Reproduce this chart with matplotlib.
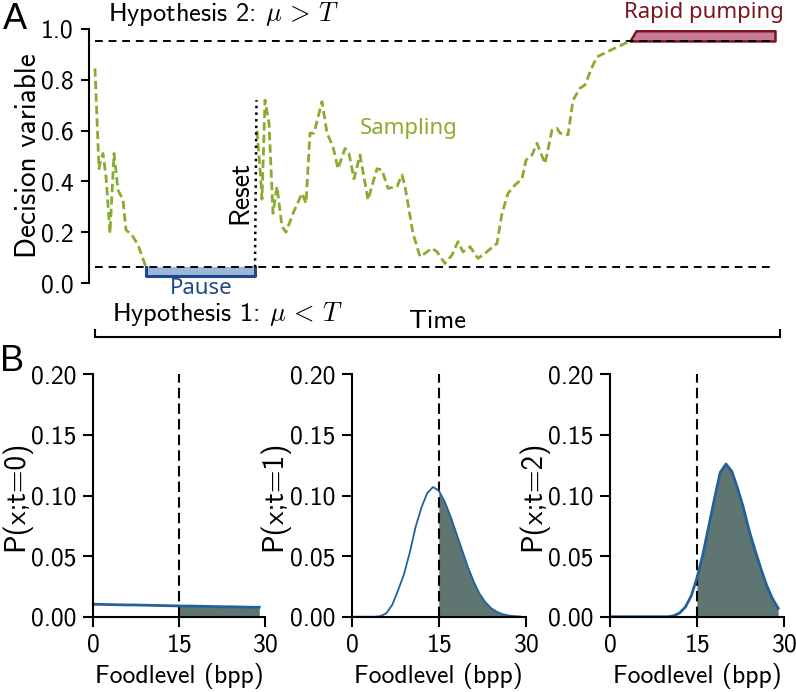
import matplotlib
matplotlib.use("Agg")
import matplotlib.pyplot as plt
from matplotlib.ticker import FormatStrFormatter

plt.rcParams['font.family'] = 'cmss10'
plt.rcParams['mathtext.fontset'] = 'cm'
plt.rcParams['axes.formatter.use_mathtext'] = True
plt.rcParams['axes.unicode_minus'] = False

# --- panel A: decision variable over time ---
t_before = [0, 4, 6, 8, 11, 15, 19, 23, 28, 31, 37, 43, 51]
dv_before = [0.845, 0.45, 0.49, 0.51, 0.42, 0.196, 0.51, 0.366, 0.327, 0.209, 0.189, 0.15, 0.062]
t_after = [162, 165, 167, 170, 174, 178, 182, 187, 191, 198, 207, 211, 215, 219, 227, 232,
           238, 243, 250, 254, 259, 265, 273, 282, 287, 293, 302, 307, 310, 318, 325, 330,
           337, 342, 350, 357, 363, 368, 375, 383, 390, 402, 407, 413, 420, 427, 431, 437,
           442, 450, 457, 462, 465, 473, 478, 485, 490, 497, 502, 512, 523, 535]
dv_after = [0.60, 0.45, 0.33, 0.72, 0.63, 0.274, 0.38, 0.222, 0.2, 0.274, 0.353, 0.314, 0.59, 0.59,
            0.714, 0.59, 0.537, 0.45, 0.53, 0.51, 0.41, 0.504, 0.327, 0.45, 0.445, 0.373, 0.38,
            0.425, 0.38, 0.196, 0.104, 0.117, 0.137, 0.123, 0.077, 0.11, 0.163, 0.123, 0.143,
            0.097, 0.117, 0.156, 0.274, 0.353, 0.386, 0.41, 0.484, 0.504, 0.55, 0.47, 0.602,
            0.609, 0.59, 0.583, 0.72, 0.767, 0.78, 0.85, 0.89, 0.91, 0.93, 0.953]
upper_bound = 0.953
lower_bound = 0.062
time_end = 685
bound_end = 680
pause_t = [51, 160]
pause_floor = 0.028
reset_t = [160, 161.5]
reset_dv = [0.062, 0.72]
pump_t = [535, 541, 680]
pump_top = [0.953, 0.993, 0.993]

# --- panel B: belief about food level ---
foodlevel = list(range(30))
p_t0 = [0.0103, 0.0102, 0.0101, 0.0100, 0.0099, 0.0098, 0.0097, 0.0097, 0.0096, 0.0095,
        0.0094, 0.0093, 0.0092, 0.0091, 0.0090, 0.0089, 0.0088, 0.0088, 0.0087, 0.0086,
        0.0085, 0.0084, 0.0083, 0.0082, 0.0082, 0.0081, 0.0080, 0.0079, 0.0078, 0.0078]
p_t1 = [0, 0, 0, 0, 0, 0.0005, 0.003, 0.010, 0.022, 0.035, 0.053, 0.074, 0.090, 0.102, 0.107,
        0.104, 0.095, 0.083, 0.069, 0.055, 0.041, 0.029, 0.019, 0.012, 0.007, 0.004, 0.002,
        0.001, 0.0005, 0.0002]
p_t2 = [0, 0, 0, 0, 0, 0, 0, 0, 0, 0, 0, 0.0008, 0.003, 0.008, 0.017, 0.032, 0.051, 0.074,
        0.097, 0.119, 0.126, 0.120, 0.106, 0.090, 0.071, 0.055, 0.040, 0.026, 0.015, 0.007]
threshold = 15

GREEN = '#8aac2e'
PAUSE_FILL, PAUSE_EDGE = '#9db6da', '#1d4a8a'
PUMP_FILL, PUMP_EDGE = '#c97a9b', '#7a1520'
DIST_LINE, DIST_FILL = '#23619a', '#5f7572'

fig = plt.figure(figsize=(7.96, 6.92), dpi=100)

axA = fig.add_axes([0.1118, 0.5910, 0.8681, 0.3671])
axA.hlines([upper_bound, lower_bound], 0, bound_end, colors='black', lw=1.4,
           linestyles=(0, (4, 3)), zorder=3)
axA.fill_between(pause_t, lower_bound, pause_floor, color=PAUSE_FILL, lw=0, zorder=1)
axA.plot([pause_t[0], pause_t[0], pause_t[1], pause_t[1]],
         [lower_bound, pause_floor, pause_floor, lower_bound], color=PAUSE_EDGE, lw=2.2, zorder=2)
axA.fill_between(pump_t, upper_bound, pump_top, facecolor=PUMP_FILL, edgecolor=PUMP_EDGE,
                 lw=1.8, zorder=2)
axA.plot(t_before, dv_before, color=GREEN, lw=2.0, linestyle=(0, (3, 1.5)), zorder=4)
axA.plot(t_after, dv_after, color=GREEN, lw=2.0, linestyle=(0, (3, 1.5)), zorder=4)
axA.plot(reset_t, reset_dv, color='black', lw=1.8, linestyle=':', zorder=4)

axA.text(13, 1.059, r'Hypothesis 2: $\mu\,>\,T$', fontsize=19, ha='left', va='center',
         clip_on=False)
axA.text(17, -0.12, r'Hypothesis 1: $\mu\,<\,T$', fontsize=19, ha='left', va='center',
         clip_on=False)
axA.text(314, 0.61, 'Sampling', color=GREEN, fontsize=16, family='Noto Sans',
         ha='center', va='center')
axA.text(106, -0.022, 'Pause', color=PAUSE_EDGE, fontsize=16, family='Noto Sans',
         ha='center', va='center')
axA.text(609, 1.063, 'Rapid pumping', color=PUMP_EDGE, fontsize=16, family='Noto Sans',
         ha='center', va='center', clip_on=False)
axA.text(145, 0.358, 'Reset', rotation=90, fontsize=20, ha='center', va='center')

axA.set_xlim(-6, time_end)
axA.set_ylim(0, 1.0)
axA.spines['top'].set_visible(False)
axA.spines['right'].set_visible(False)
axA.spines['left'].set_linewidth(1.5)
axA.spines['bottom'].set_linewidth(1.5)
axA.spines['bottom'].set_position(('outward', 39))
axA.spines['bottom'].set_bounds(0, time_end)
axA.set_xticks([0, time_end])
axA.set_xticklabels(['', ''])
axA.tick_params(axis='x', direction='in', length=6, width=1.5)
axA.set_yticks([0, 0.2, 0.4, 0.6, 0.8, 1.0])
axA.yaxis.set_major_formatter(FormatStrFormatter('%.1f'))
axA.tick_params(axis='y', length=6, width=1.5, labelsize=18.5, pad=5)
axA.set_ylabel('Decision variable', fontsize=21)
axA.yaxis.set_label_coords(-0.068, 0.5)
axA.set_xlabel('Time', fontsize=19)
axA.xaxis.set_label_coords(0.504, -0.105)

fig.text(0.0188, 0.9725, 'A', fontsize=26, family='Liberation Sans', ha='center', va='center')
fig.text(0.0151, 0.4769, 'B', fontsize=26, family='Liberation Sans', ha='center', va='center')

panel_rects = [[0.1168, 0.1088, 0.2161, 0.3503],
               [0.4418, 0.1088, 0.2190, 0.3503],
               [0.7663, 0.1088, 0.2186, 0.3503]]
dists = [p_t0, p_t1, p_t2]
widths = [2.0, 1.3, 2.0]
for i, (rect, p) in enumerate(zip(panel_rects, dists)):
    ax = fig.add_axes(rect)
    ax.fill_between(foodlevel[threshold:], p[threshold:], 0, color=DIST_FILL, lw=0, zorder=1)
    ax.plot(foodlevel, p, color=DIST_LINE, lw=widths[i], zorder=3)
    ax.vlines(threshold, 0, 0.2, colors='black', lw=1.5, linestyles=(0, (5, 2.5)), zorder=2)
    ax.set_xlim(0, 30)
    ax.set_ylim(0, 0.2)
    ax.spines['top'].set_visible(False)
    ax.spines['right'].set_visible(False)
    ax.spines['left'].set_linewidth(1.5)
    ax.spines['bottom'].set_linewidth(1.5)
    for s in ax.spines.values():
        s.set_zorder(4)
    ax.set_xticks([0, 15, 30])
    ax.set_yticks([0, 0.05, 0.10, 0.15, 0.20])
    ax.yaxis.set_major_formatter(FormatStrFormatter('%.2f'))
    ax.tick_params(length=7, width=1.5, labelsize=18.5, pad=5)
    ax.set_xlabel('Foodlevel (bpp)', fontsize=18.5, labelpad=5)
    ax.set_ylabel('P(x;t=%d)' % i, fontsize=21, labelpad=0)
    for lab in ax.get_xticklabels() + ax.get_yticklabels():
        lab.set_clip_on(False)

fig.savefig('out.png', dpi=100)
